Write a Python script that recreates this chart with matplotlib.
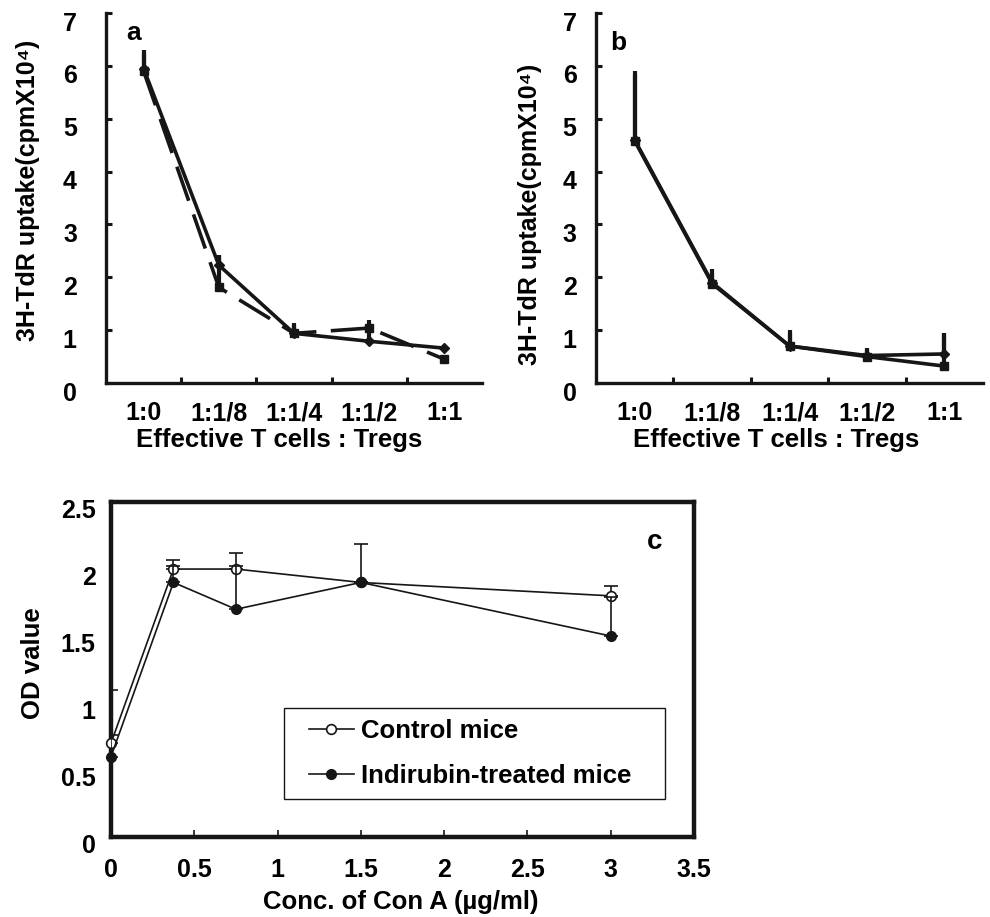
import matplotlib
matplotlib.use("Agg")
import matplotlib.pyplot as plt
from matplotlib.patches import Rectangle
from matplotlib.transforms import ScaledTranslation

plt.rcParams['font.family'] = ['Liberation Sans', 'DejaVu Sans']
plt.rcParams['font.weight'] = 'bold'

# panels a and b: ratio of effector T cells to Tregs
RATIOS = ['1:0', '1:1/8', '1:1/4', '1:1/2', '1:1']
RATIO_POS = [0, 1, 2, 3, 4]

# panel a
A_SOLID = [5.95, 2.23, 0.94, 0.79, 0.66]
A_SOLID_ERR = [0.30, 0.20, 0.15, 0.25, 0.0]
A_DASHED = [5.90, 1.81, 0.94, 1.04, 0.45]
A_DASHED_ERR = [0.40, 0.60, 0.19, 0.16, 0.0]

# panel b
B_DIAMOND = [4.60, 1.90, 0.70, 0.52, 0.55]
B_DIAMOND_ERR = [1.30, 0.25, 0.30, 0.15, 0.39]
B_SQUARE = [4.58, 1.88, 0.70, 0.50, 0.32]
B_SQUARE_ERR = [1.25, 0.20, 0.25, 0.12, 0.62]

# panel c: Con A concentration
CONA = [0, 0.375, 0.75, 1.5, 3]
CONTROL = [0.70, 2.00, 2.00, 1.90, 1.80]
CONTROL_ERR = [0.06, 0.07, 0.12, 0.29, 0.07]
INDIRUBIN = [0.60, 1.90, 1.70, 1.90, 1.50]
INDIRUBIN_ERR = [0.50, 0.12, 0.32, 0.0, 0.29]

INK = '#161616'


def upper_only(err):
    return [[0] * len(err), err]


def shift_yticklabels(ax, fig, dy_px):
    for lab in ax.get_yticklabels():
        lab.set_transform(lab.get_transform() + ScaledTranslation(0, -dy_px / 100, fig.dpi_scale_trans))


def ratio_panel(ax, fig, letter, s1, e1, s2, e2, dashed, ypad, ylab_x, ylab_y, xlab_x, let_xy):
    ax.errorbar(RATIO_POS, s1, yerr=upper_only(e1), color=INK, lw=2.6, marker='D', ms=5,
                elinewidth=3, capsize=0)
    ls = (0, (10, 4)) if dashed else '-'
    ax.errorbar(RATIO_POS, s2, yerr=upper_only(e2), color=INK, lw=2.6, ls=ls, marker='s', ms=6,
                elinewidth=3, capsize=0)
    ax.set_xlim(-0.5, 4.5)
    ax.set_ylim(0, 7)
    ax.set_yticks(range(0, 8))
    ax.set_xticks(RATIO_POS)
    ax.set_xticklabels(RATIOS)
    ax.set_xticks([0.5, 1.5, 2.5, 3.5], minor=True)
    ax.spines['top'].set_visible(False)
    ax.spines['right'].set_visible(False)
    for s in ('left', 'bottom'):
        ax.spines[s].set_linewidth(2.4)
        ax.spines[s].set_color(INK)
    ax.tick_params(axis='x', which='major', length=0, pad=13, labelsize=18)
    ax.tick_params(axis='x', which='minor', direction='in', length=4, width=2.2, color=INK)
    ax.tick_params(axis='y', direction='in', length=4, width=2.2, pad=ypad, labelsize=18, color=INK)
    shift_yticklabels(ax, fig, 8)
    ax.text(ylab_x, ylab_y, '3H-TdR uptake(cpmX10\u2074)', rotation=90, ha='center',
            va='center', fontsize=18, transform=ax.transAxes)
    ax.text(xlab_x, -0.154, 'Effective T cells : Tregs', ha='center',
            va='center', fontsize=18.5, transform=ax.transAxes)
    ax.text(let_xy[0], let_xy[1], letter, ha='center', va='center', fontsize=19, transform=ax.transAxes)


fig = plt.figure(figsize=(9.9, 9.17), dpi=100)

ax_a = fig.add_axes([0.1071, 0.5823, 0.3798, 0.4035])
ratio_panel(ax_a, fig, 'a', A_SOLID, A_SOLID_ERR, A_DASHED, A_DASHED_ERR, True, 21,
            -0.207, 0.52, 0.46, (0.072, 0.946))

ax_b = fig.add_axes([0.602, 0.5823, 0.391, 0.4035])
ratio_panel(ax_b, fig, 'b', B_DIAMOND, B_DIAMOND_ERR, B_SQUARE, B_SQUARE_ERR, False, 14,
            -0.171, 0.455, 0.465, (0.057, 0.919))

# panel c
ax_c = fig.add_axes([0.1121, 0.0872, 0.589, 0.3653])
ctrl = ax_c.errorbar(CONA, CONTROL, yerr=upper_only(CONTROL_ERR), color=INK, lw=1.2, marker='o', ms=7,
                     mfc='white', mec=INK, mew=1.2, elinewidth=1.2, capsize=4.7, capthick=1.2,
                     label='Control mice', zorder=3)
indi = ax_c.errorbar(CONA, INDIRUBIN, yerr=upper_only(INDIRUBIN_ERR), color=INK, lw=1.2, marker='o', ms=7,
                     mfc=INK, mec=INK, elinewidth=1.2, capsize=4.7, capthick=1.2,
                     label='Indirubin-treated mice', zorder=4)
ctrl[0].set_clip_on(False)
indi[0].set_clip_on(False)
ax_c.set_xlim(0, 3.5)
ax_c.set_ylim(0, 2.5)
ax_c.set_xticks([0, 0.5, 1, 1.5, 2, 2.5, 3, 3.5])
ax_c.set_xticklabels(['0', '0.5', '1', '1.5', '2', '2.5', '3', '3.5'])
ax_c.set_yticks([0, 0.5, 1, 1.5, 2, 2.5])
ax_c.set_yticklabels(['0', '0.5', '1', '1.5', '2', '2.5'])
for s in ax_c.spines.values():
    s.set_linewidth(3.2)
    s.set_color(INK)
ax_c.tick_params(axis='x', direction='in', length=5, width=1.2, pad=15, labelsize=18, color=INK)
ax_c.tick_params(axis='y', length=0, pad=11, labelsize=18)
shift_yticklabels(ax_c, fig, 6)
ax_c.text(-0.134, 0.52, 'OD value', rotation=90, ha='center', va='center', fontsize=18.5,
          transform=ax_c.transAxes)
ax_c.text(0.497, -0.194, 'Conc. of Con A (\u00b5g/ml)', ha='center', va='center', fontsize=18.5,
          transform=ax_c.transAxes)
ax_c.text(0.933, 0.881, 'c', ha='center', va='center', fontsize=20, transform=ax_c.transAxes)

# legend: separate frame box, entries placed inside it
ax_c.add_patch(Rectangle((0.297, 0.113), 0.653, 0.272, transform=ax_c.transAxes, fill=False,
                         ec=INK, lw=1.0, zorder=5))
handles, labels = ax_c.get_legend_handles_labels()
handles = [h[0] for h in handles]
ax_c.legend(handles, labels, loc='center left', bbox_to_anchor=(0.339, 0.249),
            fontsize=18.5, frameon=False, handlelength=1.75, handletextpad=0.3,
            borderpad=0, labelspacing=0.8, borderaxespad=0)

fig.savefig('out.png', dpi=100)
